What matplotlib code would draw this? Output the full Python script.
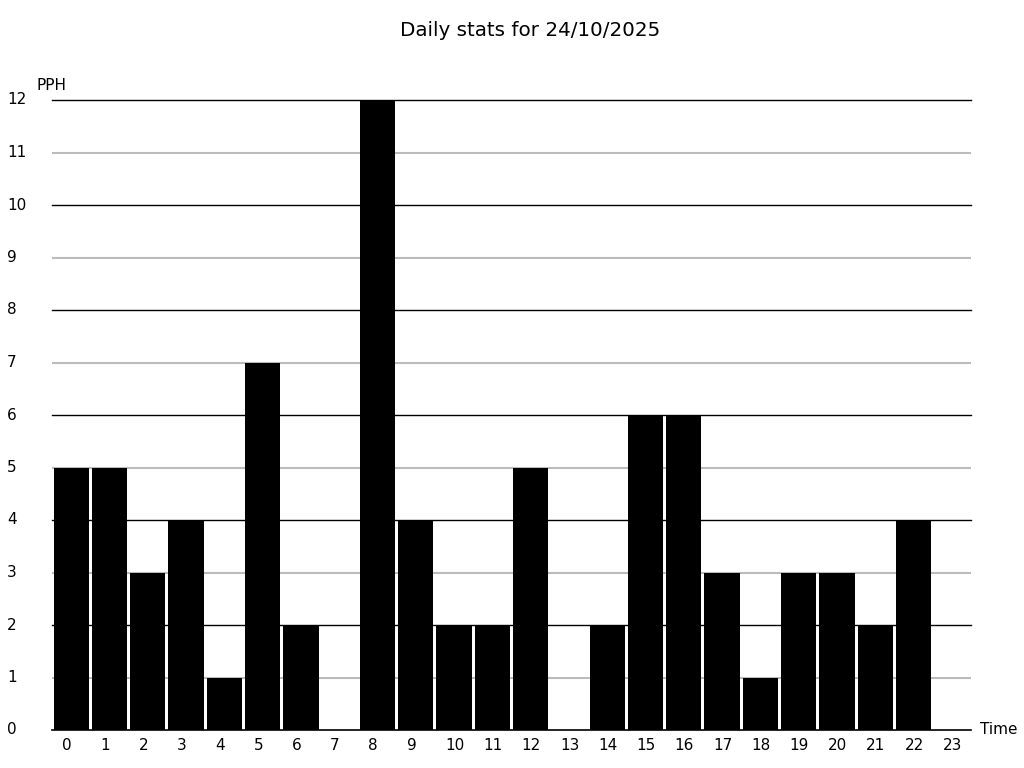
import matplotlib.pyplot as plt
import matplotlib.transforms as mtransforms
import numpy as np

hours = list(range(24))
pph = [5, 5, 3, 4, 1, 7, 2, 0, 12, 4, 2, 2, 5, 0, 2, 6, 6, 3, 1, 3, 3, 2, 4, 0]
yticks = list(range(13))

fig = plt.figure(figsize=(10.24, 7.68), dpi=100)
ax = fig.add_axes([52/1024, 38/768, 919/1024, 630/768])

# horizontal grid: even lines black, odd lines grey
for v in yticks:
    if v == 0:
        continue
    if v % 2 == 0:
        ax.axhline(v, color='black', lw=1.0, zorder=1, clip_on=False)
    else:
        ax.axhline(v, color='#bbbbbb', lw=1.5, zorder=1)

ax.bar(hours, pph, width=0.92, color='black', zorder=2)
ax.axhline(0, color='black', lw=1.2, zorder=3, clip_on=False)

ax.set_xlim(-0.5, 23.5)
ax.set_ylim(0, 12)
for s in ax.spines.values():
    s.set_visible(False)
ax.set_xticks([])
ax.set_yticks([])

fs = 11
# x tick labels, left aligned a bit left of slot centre
offs = mtransforms.offset_copy(ax.transData, fig=fig, x=-9/100*72, y=-8/100*72, units='points')
for h in hours:
    ax.text(h, 0, str(h), transform=offs, ha='left', va='top', fontsize=fs)

# y tick labels at the far left of figure
ytrans = mtransforms.blended_transform_factory(fig.transFigure, ax.transData)
for v in yticks:
    ax.text(7/1024, v, str(v), transform=ytrans, ha='left', va='center', fontsize=fs)

fig.text(37/1024, 1 - 85/768, 'PPH', ha='left', va='center', fontsize=fs)
fig.text(980/1024, 1 - 730/768, 'Time', ha='left', va='center', fontsize=fs)
fig.text(0.518, 1 - 30/768, 'Daily stats for 24/10/2025', ha='center', va='center', fontsize=14.3)

plt.savefig('out.png', dpi=100)
